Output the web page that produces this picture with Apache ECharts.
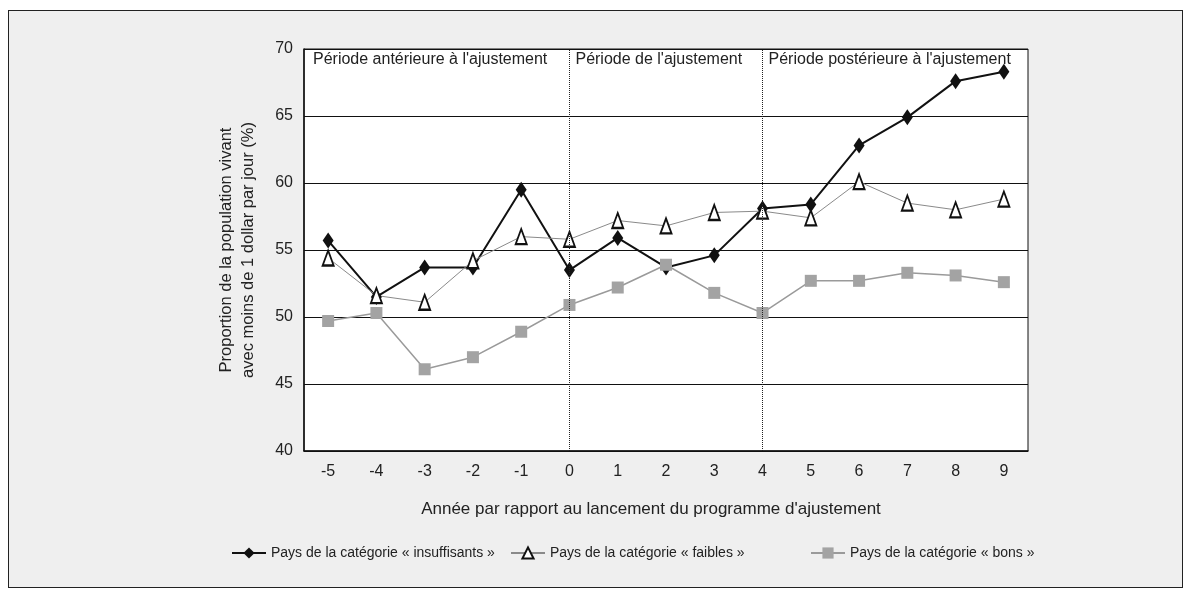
<!DOCTYPE html>
<html>
<head>
<meta charset="utf-8">
<script src="https://cdn.jsdelivr.net/npm/echarts@6/dist/echarts.min.js"></script>
<style>
  html, body { margin: 0; padding: 0; background: #ffffff; }
  .paper {
    position: absolute; left: 8px; top: 10px; width: 1173px; height: 576px;
    border: 1.5px solid #222; background-color: #efefef;
  }
  #chart { position: absolute; left: 0; top: 0; width: 1187px; height: 591px; }
</style>
</head>
<body>
<div class="paper"></div>
<div id="chart"></div>
<script>
// années par rapport au lancement du programme
const annees = ['-5', '-4', '-3', '-2', '-1', '0', '1', '2', '3', '4', '5', '6', '7', '8', '9']
const insuffisants = [55.7, 51.5, 53.7, 53.7, 59.5, 53.5, 55.9, 53.7, 54.6, 58.1, 58.4, 62.8, 64.9, 67.6, 68.3]
const faibles = [54.4, 51.6, 51.1, 54.2, 56.0, 55.8, 57.2, 56.8, 57.8, 57.9, 57.4, 60.1, 58.5, 58.0, 58.8]
const bons = [49.7, 50.3, 46.1, 47.0, 48.9, 50.9, 52.2, 53.9, 51.8, 50.3, 52.7, 52.7, 53.3, 53.1, 52.6]
const periodes = ["Période antérieure à l'ajustement", "Période de l'ajustement", "Période postérieure à l'ajustement"]
const debutsPeriodes = ['-5', '0', '4']
const noms = [
  'Pays de la catégorie « insuffisants »',
  'Pays de la catégorie « faibles »',
  'Pays de la catégorie « bons »'
]

const font = 'Liberation Sans, Arial, sans-serif'
const myChart = echarts.init(document.getElementById('chart'))

const legendBase = {
  top: 541,
  itemWidth: 34,
  itemHeight: 14,
  itemGap: 8,
  textStyle: { fontFamily: font, fontSize: 14, color: '#222' }
}

myChart.setOption({
  animation: false,
  textStyle: { fontFamily: font },
  grid: {
    left: 304,
    right: 159,
    top: 49,
    bottom: 140,
    show: true,
    backgroundColor: '#ffffff',
    borderColor: '#111',
    borderWidth: 1
  },
  legend: [
    Object.assign({ left: 226, data: [noms[0]] }, legendBase),
    Object.assign({ left: 505, data: [noms[1]] }, legendBase),
    Object.assign({ left: 805, data: [noms[2]] }, legendBase)
  ],
  xAxis: {
    type: 'category',
    boundaryGap: true,
    data: annees,
    name: "Année par rapport au lancement du programme d'ajustement",
    nameLocation: 'middle',
    nameGap: 50,
    nameTextStyle: { fontSize: 17, color: '#222', padding: [0, 30, 0, 0] },
    axisLine: { lineStyle: { color: '#111', width: 1.5 } },
    axisTick: { show: false },
    axisLabel: { fontSize: 16, color: '#222', margin: 13 }
  },
  yAxis: {
    type: 'value',
    min: 40,
    max: 70,
    interval: 5,
    name: 'Proportion de la population vivant\navec moins de 1 dollar par jour (%)',
    nameLocation: 'middle',
    nameRotate: 90,
    nameGap: 45,
    nameTextStyle: { fontSize: 16.5, color: '#222', lineHeight: 22 },
    axisLine: { show: true, lineStyle: { color: '#111', width: 1.5 } },
    axisTick: { show: false },
    axisLabel: { fontSize: 16, color: '#222', margin: 11 },
    splitLine: { lineStyle: { color: '#111', width: 1 } }
  },
  series: [
    {
      name: noms[0],
      type: 'line',
      data: insuffisants,
      symbol: 'diamond',
      symbolSize: [11, 16],
      lineStyle: { color: '#111', width: 2 },
      itemStyle: { color: '#111' },
      markLine: {
        silent: true,
        symbol: 'none',
        label: { show: false },
        lineStyle: { color: '#222', width: 1, type: 'dotted' },
        data: [{ xAxis: '0' }, { xAxis: '4' }]
      }
    },
    {
      name: noms[1],
      type: 'line',
      data: faibles,
      symbol: 'triangle',
      symbolSize: [11, 15],
      lineStyle: { color: '#8a8a8a', width: 1 },
      itemStyle: { color: '#ffffff', borderColor: '#111', borderWidth: 2 }
    },
    {
      name: noms[2],
      type: 'line',
      data: bons,
      symbol: 'rect',
      symbolSize: 12,
      lineStyle: { color: '#9a9a9a', width: 1.5 },
      itemStyle: { color: '#a3a3a3' }
    }
  ]
})

// libellés des périodes, placés à partir des positions des catégories
const pas = myChart.convertToPixel({ xAxisIndex: 0 }, '1') - myChart.convertToPixel({ xAxisIndex: 0 }, '0')
myChart.setOption({
  graphic: periodes.map(function(texte, i) {
    let x = myChart.convertToPixel({ xAxisIndex: 0 }, debutsPeriodes[i])
    x = i === 0 ? x - pas / 2 + 9 : x + 6
    return {
      type: 'text',
      x: x,
      y: 52,
      style: { text: texte, fontFamily: font, fontSize: 16, fill: '#222' }
    }
  })
})
</script>
</body>
</html>
